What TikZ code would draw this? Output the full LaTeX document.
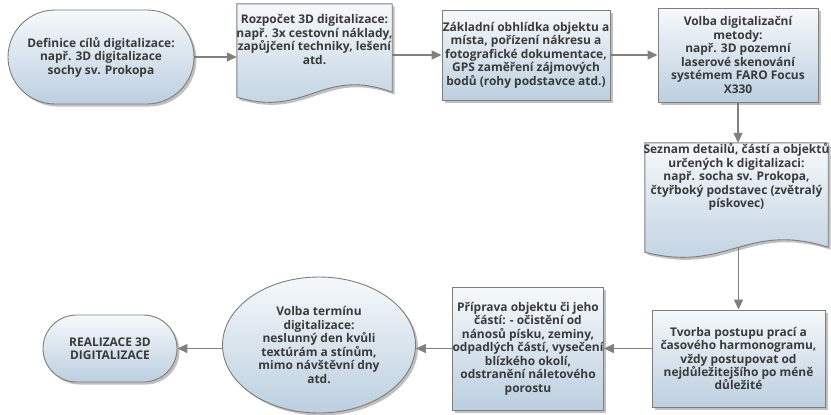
\documentclass[tikz,border=0pt]{standalone}
\usepackage{fontspec}
\setmainfont{Open Sans}
\usetikzlibrary{arrows.meta,shapes.geometric,shapes.misc,shadows,calc,backgrounds}

\definecolor{boxtop}{RGB}{246,249,251}
\definecolor{boxbot}{RGB}{188,207,224}
\definecolor{boxline}{RGB}{125,125,125}
\definecolor{txtcol}{RGB}{58,58,58}
\definecolor{arrowcol}{RGB}{128,128,128}

\tikzset{
  shade box/.style={top color=boxtop, bottom color=boxbot, draw=boxline, line width=0.9bp,
    drop shadow={shadow xshift=2.5bp, shadow yshift=-2.5bp, opacity=0.45, fill=black!55}},
  label text/.style={text=txtcol, font=\bfseries\fontsize{12}{13.5}\selectfont, align=center, inner sep=0},
  procbox/.style={shade box, label text, shape=rectangle},
  termbox/.style={shade box, label text, shape=rounded rectangle},
  ellbox/.style={shade box, label text, shape=ellipse, inner sep=0},
  docframe/.style={shape=rectangle, inner sep=0, draw=none},
  flow/.style={draw=arrowcol, line width=1.4bp, -{Triangle[length=10bp,width=9bp]}},
}

% document shape: flat top, wavy bottom that ends lower on the left
\newcommand\docoutline[1]{%
  \path[shade box] (#1.north west) -- (#1.north east) -- (#1.south east)
    .. controls ($(#1.south east)!0.45!(#1.south west)+(0,-26)$)
           and ($(#1.south west)!0.45!(#1.south east)+(0,26)$)
    .. ($(#1.south west)+(0,5)$) -- cycle;}

\begin{document}
\begin{tikzpicture}[x=1bp,y=-1bp]
\useasboundingbox (0,0) rectangle (831,414);

% top row
\node[termbox, minimum width=186bp, minimum height=94bp] (n1) at (101,57)
  {Definice cílů digitalizace:\\ např. 3D digitalizace\\ sochy sv. Prokopa};

\node[docframe, minimum width=155bp, minimum height=88bp] (n2) at (314.5,48) {};
\docoutline{n2}
\node[label text] (n2t) at (314.5,39.5)
  {Rozpočet 3D digitalizace:\\ např. 3x cestovní náklady,\\ zapůjčení techniky, lešení\\ atd.};

\node[procbox, minimum width=168bp, minimum height=90bp] (n3) at (526,55)
  {Základní obhlídka objektu a\\ místa, pořízení nákresu a\\ fotografické dokumentace,\\ GPS zaměření zájmových\\ bodů (rohy podstavce atd.)};

\node[procbox, minimum width=160bp, minimum height=94bp] (n4) at (738,55)
  {Volba digitalizační\\ metody:\\ např. 3D pozemní\\ laserové skenování\\ systémem FARO Focus\\ X330};

% right column
\node[docframe, minimum width=183bp, minimum height=104bp] (n5) at (736.5,195) {};
\docoutline{n5}
\node[label text] (n5t) at (736.5,177)
  {Seznam detailů, částí a objektů\\ určených k digitalizaci:\\ např. socha sv. Prokopa,\\ čtyřboký podstavec (zvětralý\\ pískovec)};

\node[procbox, minimum width=173bp, minimum height=97bp] (n6) at (738.5,358.5)
  {Tvorba postupu prací a\\ časového harmonogramu,\\ vždy postupovat od\\ nejdůležitejšího po méně\\ důležité};

% bottom row
\node[procbox, minimum width=150bp, minimum height=123bp] (n7) at (528,348.5)
  {Příprava objektu či jeho\\ částí: - očistění od\\ nánosů písku, zeminy,\\ odpadlých částí, vysečení\\ blízkého okolí,\\ odstranění náletového\\ porostu};

\node[ellbox, minimum width=193bp, minimum height=136bp] (n8) at (319,345)
  {Volba termínu\\ digitalizace:\\ neslunný den kvůli\\ textúrám a stínům,\\ mimo návštěvní dny\\ atd.};

\node[termbox, minimum width=134bp, minimum height=67bp] (n9) at (110,348.5)
  {REALIZACE 3D\\ DIGITALIZACE};

% connectors
\begin{pgfonlayer}{background}
  \draw[flow] (n1.east) -- (n1.east -| n2.west);
  \draw[flow] (n3.west -| n2.east) -- (n3.west);
  \draw[flow] (n3.east) -- (n4.west);
  \draw[flow] (n4.south) -- (n4.south |- n5.north);
  \draw[flow] (n6.north |- n5.south) -- (n6.north);
  \draw[flow] (n7.east -| n6.west) -- (n7.east);
  \draw[flow] (n7.west) -- (n7.west -| n8.east);
  \draw[flow] (n9.east -| n8.west) -- (n9.east);
\end{pgfonlayer}
\end{tikzpicture}
\end{document}
